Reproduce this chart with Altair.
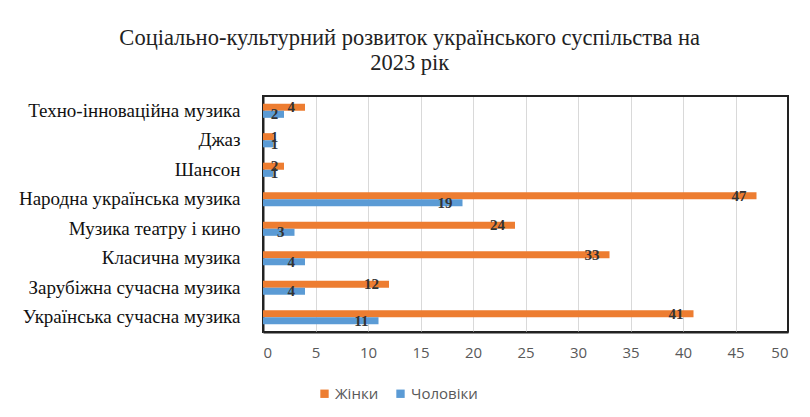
import altair as alt
import pandas as pd

categories = [
    "Техно-інноваційна музика",
    "Джаз",
    "Шансон",
    "Народна українська музика",
    "Музика театру і кино",
    "Класична музика",
    "Зарубіжна сучасна музика",
    "Українська сучасна музика",
]
women = [4, 1, 2, 47, 24, 33, 12, 41]
men = [2, 1, 1, 19, 3, 4, 4, 11]
series = ["Жінки", "Чоловіки"]
colors = ["#ED7D31", "#5B9BD5"]

rows = []
for c, w, m in zip(categories, women, men):
    rows.append({"cat": c, "series": series[0], "value": w})
    rows.append({"cat": c, "series": series[1], "value": m})
df = pd.DataFrame(rows)

y_enc = alt.Y("cat:N", sort=categories, title=None,
              scale=alt.Scale(paddingInner=0.52, paddingOuter=0.26),
              axis=alt.Axis(labelFont="Liberation Serif", labelFontSize=19,
                            labelColor="#111111", ticks=False, domain=True,
                            domainColor="#222222", domainWidth=2,
                            labelPadding=23, labelLimit=400))
yoff = alt.YOffset("series:N", sort=series, scale=alt.Scale(paddingInner=0, paddingOuter=0))

bars = alt.Chart(df).mark_bar().encode(
    x=alt.X("value:Q", title=None,
            scale=alt.Scale(domain=[0, 50], nice=False),
            axis=alt.Axis(values=list(range(0, 55, 5)), grid=True, gridColor="#d9d9d9",
                          ticks=False, domain=True, domainColor="#222222", domainWidth=2,
                          labelFont="Open Sans",
                          labelFontSize=15, labelColor="#595959", labelPadding=13)),
    y=y_enc,
    yOffset=yoff,
    color=alt.Color("series:N", sort=series,
                    scale=alt.Scale(domain=series, range=colors),
                    legend=alt.Legend(title=None, orient="none", direction="horizontal",
                                      legendX=54, legendY=290, symbolType="square",
                                      symbolSize=70, symbolStrokeWidth=0,
                                      labelFont="Open Sans", labelFontSize=15,
                                      labelColor="#595959", columnPadding=14,
                                      labelOffset=3)),
)

labels = alt.Chart(df).transform_calculate(
    lx="max(datum.value, 2.4)"
).mark_text(align="right", baseline="middle", dx=-10, font="Liberation Serif",
            fontSize=15, fontWeight="bold", color="#333333").encode(
    x=alt.X("lx:Q"),
    y=alt.Y("cat:N", sort=categories),
    yOffset=yoff,
    text="value:Q",
)

edge = pd.DataFrame({"f": [0]})
top_rule = alt.Chart(edge).mark_rule(color="#222222", strokeWidth=2).encode(
    y=alt.value(0), x=alt.value(0), x2=alt.value("width"))
right_rule = alt.Chart(edge).mark_rule(color="#222222", strokeWidth=2).encode(
    x=alt.value("width"), y=alt.value(0), y2=alt.value("height"))

chart = alt.layer(bars, labels, top_rule, right_rule).properties(
    width=525, height=236,
    title=alt.TitleParams(
        ["Соціально-культурний розвиток українського суспільства на", "2023 рік"],
        font="Liberation Serif", fontSize=22.5, fontWeight="normal", color="#222222",
        anchor="middle", frame="bounds", dx=6, offset=21, lineHeight=25),
    padding={"left": 10, "top": 18, "right": 10, "bottom": 5},
).configure(background="white").configure_view(stroke="#222222", strokeWidth=2)

chart.save("out.html", embed_options={"renderer": "svg", "actions": False})
